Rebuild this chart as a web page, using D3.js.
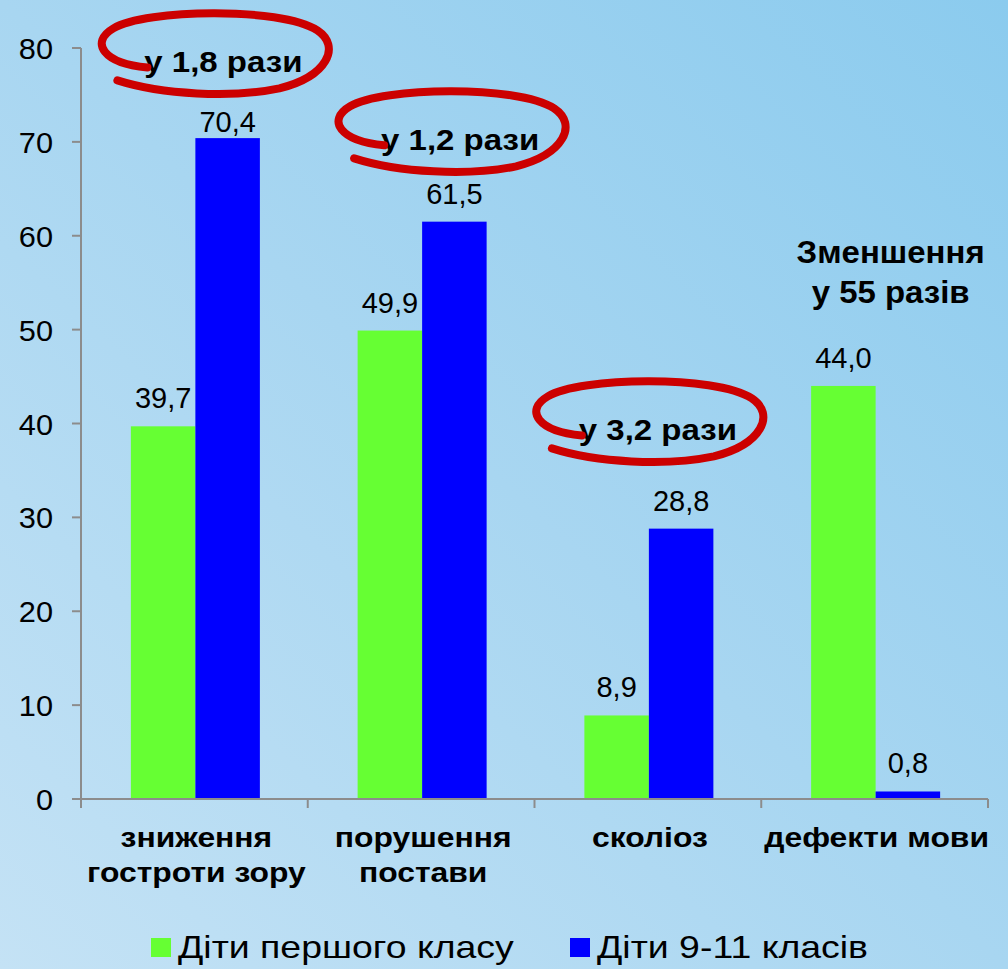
<!DOCTYPE html>
<html>
<head>
<meta charset="utf-8">
<title>Захворювання дітей</title>
<script src="https://d3js.org/d3.v7.min.js"></script>
<style>
  html, body { margin: 0; padding: 0; }
  body { width: 1008px; height: 969px; overflow: hidden; }
  text { font-family: "Liberation Sans", Arial, sans-serif; }
</style>
</head>
<body>
<div id="chart"></div>
<script>
// data
var categories = [["зниження", "гостроти зору"], ["порушення", "постави"], ["сколіоз"], ["дефекти мови"]];
var firstGrade = [39.7, 49.9, 8.9, 44.0];
var seniorGrade = [70.4, 61.5, 28.8, 0.8];
var seriesNames = ["Діти першого класу", "Діти 9-11 класів"];
var seriesColors = ["#66ff33", "#0000ff"];
var yTicks = [0, 10, 20, 30, 40, 50, 60, 70, 80];
// ratio notes: category index, x shift, level on value axis
var notes = ["у 1,8 рази", "у 1,2 рази", "у 3,2 рази"];
var noteCat = [0, 1, 2];
var noteShift = [29, 39, 10];
var noteLevel = [77.4, 69.1, 38.2];
var bigNote = ["Зменшення", "у 55 разів"];

var w = 1008, h = 969;

var svg = d3.select("#chart").append("svg")
    .attr("width", w).attr("height", h);

// background gradient
var defs = svg.append("defs");
var grad = defs.append("linearGradient").attr("id", "bg")
    .attr("x1", "0").attr("y1", "1").attr("x2", "1").attr("y2", "0");
grad.append("stop").attr("offset", "0").attr("stop-color", "#c4e2f5");
grad.append("stop").attr("offset", "0.5").attr("stop-color", "#a8d6f1");
grad.append("stop").attr("offset", "1").attr("stop-color", "#8bcbee");
svg.append("rect").attr("width", w).attr("height", h).attr("fill", "url(#bg)");

var x = d3.scaleBand().domain(d3.range(categories.length))
    .range([81, 988]).paddingInner(0).paddingOuter(0);
var y = d3.scaleLinear().domain([0, 80]).range([799, 48]);
var inner = d3.scaleBand().domain([0, 1]).range([0, 129]);
var groupOffset = (x.bandwidth() - 129) / 2 + 1;

var g = svg.append("g");

// text drawn a bit wider than the font, as in the slide
function wideText(parent, tx, ty, sx, size, bold, anchor, str) {
  return parent.append("text")
      .attr("transform", "translate(" + tx + "," + ty + ") scale(" + sx + ",1)")
      .attr("text-anchor", anchor).attr("font-size", size)
      .attr("font-weight", bold ? "bold" : "normal").attr("fill", "#000")
      .text(str);
}

// y axis
g.append("line").attr("x1", 81).attr("x2", 81).attr("y1", y(80)).attr("y2", y(0))
    .attr("stroke", "#8c8c8c").attr("stroke-width", 2);
g.selectAll(".yt").data(yTicks).enter().append("line")
    .attr("x1", 72).attr("x2", 81)
    .attr("y1", function(d) { return y(d); }).attr("y2", function(d) { return y(d); })
    .attr("stroke", "#8c8c8c").attr("stroke-width", 2);
yTicks.forEach(function(d) {
  wideText(g, 53, y(d) + 11, 1.06, 29, false, "end", d);
});

// bars
var series = [firstGrade, seniorGrade];
series.forEach(function(vals, s) {
  g.selectAll(".bar" + s).data(vals).enter().append("rect")
      .attr("x", function(d, i) { return x(i) + groupOffset + inner(s); })
      .attr("width", inner.bandwidth())
      .attr("y", function(d) { return y(d); })
      .attr("height", function(d) { return y(0) - y(d); })
      .attr("fill", seriesColors[s]);
  vals.forEach(function(d, i) {
    // labels stay below the ratio notes
    var ly = Math.max(y(d) - 18, y(71));
    wideText(g, x(i) + groupOffset + inner(s) + inner.bandwidth() / 2, ly, 1.0, 29, false, "middle",
        d.toFixed(1).replace(".", ","));
  });
});

// x axis
g.append("line").attr("x1", 81).attr("x2", 988).attr("y1", y(0)).attr("y2", y(0))
    .attr("stroke", "#8c8c8c").attr("stroke-width", 2);
g.selectAll(".xt").data(d3.range(categories.length + 1)).enter().append("line")
    .attr("x1", function(d) { return 81 + d * x.bandwidth(); })
    .attr("x2", function(d) { return 81 + d * x.bandwidth(); })
    .attr("y1", y(0)).attr("y2", y(0) + 9)
    .attr("stroke", "#8c8c8c").attr("stroke-width", 2);
categories.forEach(function(lines, i) {
  lines.forEach(function(l, k) {
    wideText(g, x(i) + x.bandwidth() / 2 + 2, 847 + k * 35, 1.18, 27, true, "middle", l);
  });
});

// ratio notes with red rings
var ring = "M -76,-5 C -120,-9 -134,-30 -110,-44 C -78,-63 56,-66 94,-42 C 118,-26 104,4 56,16 C 8,26 -62,22 -106,8";
notes.forEach(function(n, k) {
  var cx = x(noteCat[k]) + x.bandwidth() / 2 + noteShift[k];
  var by = y(noteLevel[k]);
  var ng = g.append("g").attr("transform", "translate(" + cx + "," + by + ")");
  wideText(ng, 0, 0, 1.1, 30, true, "middle", n);
  ng.append("path").attr("d", ring).attr("fill", "none")
      .attr("stroke", "#cc0000").attr("stroke-width", 8).attr("stroke-linecap", "round");
});

bigNote.forEach(function(l, k) {
  wideText(g, x(3) + x.bandwidth() / 2 + 16, 263 + k * 40, 1.03, 32, true, "middle", l);
});

// legend
var legX = [151, 570];
seriesNames.forEach(function(n, s) {
  g.append("rect").attr("x", legX[s]).attr("y", 938).attr("width", 20).attr("height", 19)
      .attr("fill", seriesColors[s]);
  wideText(g, legX[s] + 27, 958, 1.17, 32, false, "start", n);
});
</script>
</body>
</html>
